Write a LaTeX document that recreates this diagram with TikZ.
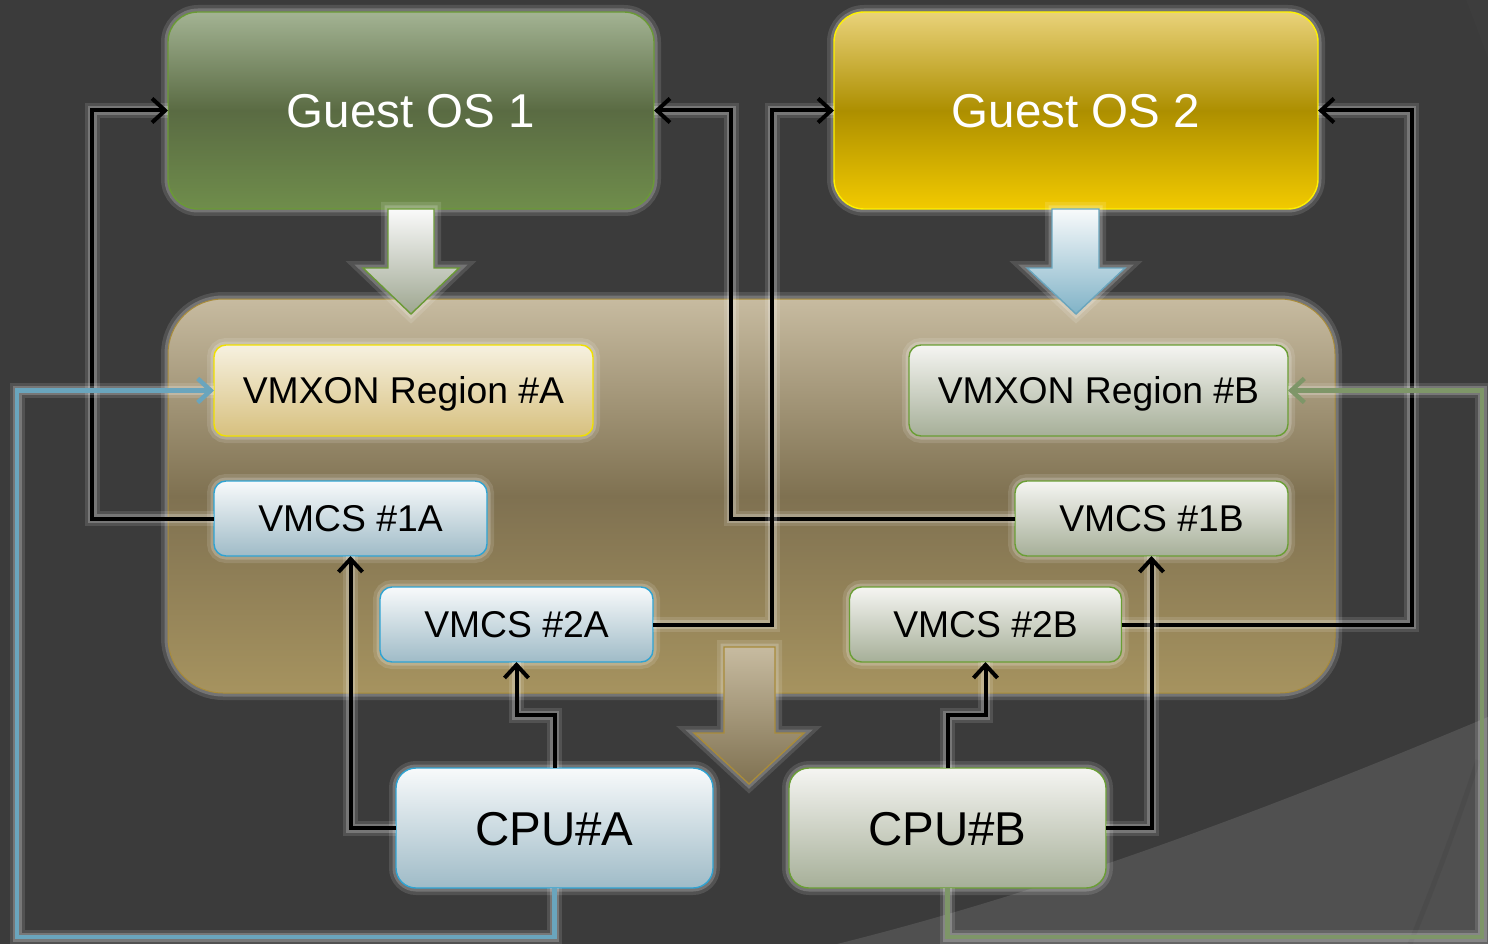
\documentclass[tikz,border=0pt]{standalone}
\usepackage{fontspec}
\setmainfont{Liberation Sans}
\usetikzlibrary{arrows.meta}
\definecolor{bg}{HTML}{3B3B3B}
\definecolor{bglight}{HTML}{505050}
\definecolor{gotop}{HTML}{A3B393}
\definecolor{gomid}{HTML}{5A6B43}
\definecolor{gobot}{HTML}{6F8D4B}
\definecolor{gobrd}{HTML}{6A9A35}
\definecolor{ytop}{HTML}{E9D27A}
\definecolor{ymid}{HTML}{AD8F00}
\definecolor{ybot}{HTML}{F2CA00}
\definecolor{ybrd}{HTML}{FFF200}
\definecolor{ctop}{HTML}{C7BBA0}
\definecolor{cmid}{HTML}{7F7151}
\definecolor{cbot}{HTML}{A6935F}
\definecolor{cbrd}{HTML}{A88B3A}
\definecolor{vxtop}{HTML}{F6F1E0}
\definecolor{vxbot}{HTML}{D7C07E}
\definecolor{vxbrd}{HTML}{F0E000}
\definecolor{btop}{HTML}{F8FAFB}
\definecolor{bbot}{HTML}{9FBBC7}
\definecolor{bbrd}{HTML}{2FA3D2}
\definecolor{gtop}{HTML}{F5F5F2}
\definecolor{gbot}{HTML}{A6AF98}
\definecolor{gbrd}{HTML}{6A9E35}
\definecolor{bluel}{HTML}{6AA5BD}
\definecolor{greenl}{HTML}{7E9668}
\tikzset{
  glow/.style={preaction={draw=white, draw opacity=0.12, line width=14pt},
               preaction={draw=white, draw opacity=0.2, line width=7pt}},
  basebox/.style={glow, line width=1.4pt, inner sep=0pt, outer sep=0pt, align=center, text depth=0pt},
  bigtext/.style={font=\fontsize{47.5}{52}\selectfont, text height=34pt},
  smalltext/.style={font=\fontsize{37.3}{41}\selectfont, text height=26.7pt},
  guestone/.style={basebox, rounded corners=30pt, draw=gobrd, top color=gotop, bottom color=gobot, middle color=gomid, text=white, bigtext},
  guesttwo/.style={basebox, rounded corners=30pt, draw=ybrd, top color=ytop, bottom color=ybot, middle color=ymid, text=white, bigtext},
  container/.style={basebox, rounded corners=55pt, draw=cbrd, line width=1pt, top color=ctop, bottom color=cbot, middle color=cmid},
  vmxa/.style={basebox, rounded corners=12pt, draw=vxbrd, top color=vxtop, bottom color=vxbot, smalltext},
  bluebox/.style={basebox, rounded corners=12pt, draw=bbrd, top color=btop, bottom color=bbot, smalltext},
  greenbox/.style={basebox, rounded corners=12pt, draw=gbrd, top color=gtop, bottom color=gbot, smalltext},
  cpufont/.style={rounded corners=20pt, bigtext},
  lineglow/.style={preaction={draw=white, draw opacity=0.12, line width=15pt, arrows=-},
                   preaction={draw=white, draw opacity=0.22, line width=9pt, arrows=-}},
  conn/.style={draw=black, line width=4pt, lineglow, -{Straight Barb[length=13pt,width=24pt]}},
  bluec/.style={draw=bluel, line width=4.5pt, lineglow, -{Straight Barb[length=13pt,width=24pt]}},
  greenc/.style={draw=greenl, line width=4.5pt, lineglow, -{Straight Barb[length=13pt,width=24pt]}},
}
\begin{document}
\begin{tikzpicture}[x=1pt, y=-1pt]
\useasboundingbox (0,0) rectangle (1488,944);
\fill[bg] (0,0) rectangle (1488,944);
% theme decoration
\fill[bglight] (837,944) .. controls (1054,890) and (1271,808) .. (1488,717) -- (1488,944) -- cycle;
\fill[black!75!white, opacity=0.4] (1466,0) .. controls (1474,20) and (1481,40) .. (1488,58) -- (1488,0) -- cycle;
\draw[black, opacity=0.05, line width=5pt] (1478,760) .. controls (1455,830) and (1432,890) .. (1410,944);

% container
\node[container, minimum width=1167pt, minimum height=394pt] (cont) at (751.5,496) {};

% guest OS boxes
\node[guestone, minimum width=486pt, minimum height=197pt] (g1) at (411,110.5) {Guest OS 1};
\node[guesttwo, minimum width=484pt, minimum height=197pt] (g2) at (1076,110.5) {Guest OS 2};

% block arrows
\shade[top color=white!96!gray, bottom color=gbot!95!black, draw=gobrd, line width=1.4pt, glow]
  (388,209) -- (434,209) -- (434,268) -- (459,268) -- (411,314) -- (363,268) -- (388,268) -- cycle;
\shade[top color=btop, bottom color=bluel!85!white, draw=bluel, line width=1.4pt, glow]
  (1052,209) -- (1099,209) -- (1099,268) -- (1125,268) -- (1076,314) -- (1027,268) -- (1052,268) -- cycle;

% inner boxes
\node[vmxa, minimum width=379pt, minimum height=91pt] (vxa) at (403.5,390.5) {VMXON Region \#A};
\node[greenbox, minimum width=379pt, minimum height=91pt] (vxb) at (1098.5,390.5) {VMXON Region \#B};
\node[bluebox, minimum width=273pt, minimum height=75pt] (v1a) at (350.5,518.5) {VMCS \#1A};
\node[greenbox, minimum width=273pt, minimum height=75pt] (v1b) at (1151.5,518.5) {VMCS \#1B};
\node[bluebox, minimum width=273pt, minimum height=75pt] (v2a) at (516.5,624.5) {VMCS \#2A};
\node[greenbox, minimum width=272pt, minimum height=75pt] (v2b) at (985.5,624.5) {VMCS \#2B};

% tan block arrow
\shade[top color=ctop, bottom color=cmid, draw=cbrd, line width=1.4pt, glow]
  (724,647) -- (775,647) -- (775,733) -- (804,733) -- (749,784) -- (694,733) -- (724,733) -- cycle;

% CPU boxes
\node[bluebox, cpufont, minimum width=317pt, minimum height=120pt] (cpua) at (554.5,828) {CPU\#A};
\node[greenbox, cpufont, minimum width=317pt, minimum height=120pt] (cpub) at (947.5,828) {CPU\#B};

% black connectors
\draw[conn] (v1a.west) -- ++(-122,0) |- (g1.west);
\draw[conn] (v1b.west) -- ++(-284,0) |- (g1.east);
\draw[conn] (v2a.east) -- ++(119,0) |- (g2.west);
\draw[conn] (v2b.east) -- ++(290,0) |- (g2.east);
\draw[conn] (cpua.west) -| (v1a.south);
\draw[conn] (cpua.north) -- ++(0,-53) -| (v2a.south);
\draw[conn] (cpub.north) -- ++(0,-53) -| (v2b.south);
\draw[conn] (cpub.east) -| (v1b.south);

% coloured connectors
\draw[bluec] (cpua.south) -- ++(0,49) -- ++(-537.5,0) |- (vxa.west);
\draw[greenc] (cpub.south) -- ++(0,49) -- ++(534.5,0) |- (vxb.east);
\end{tikzpicture}
\end{document}
